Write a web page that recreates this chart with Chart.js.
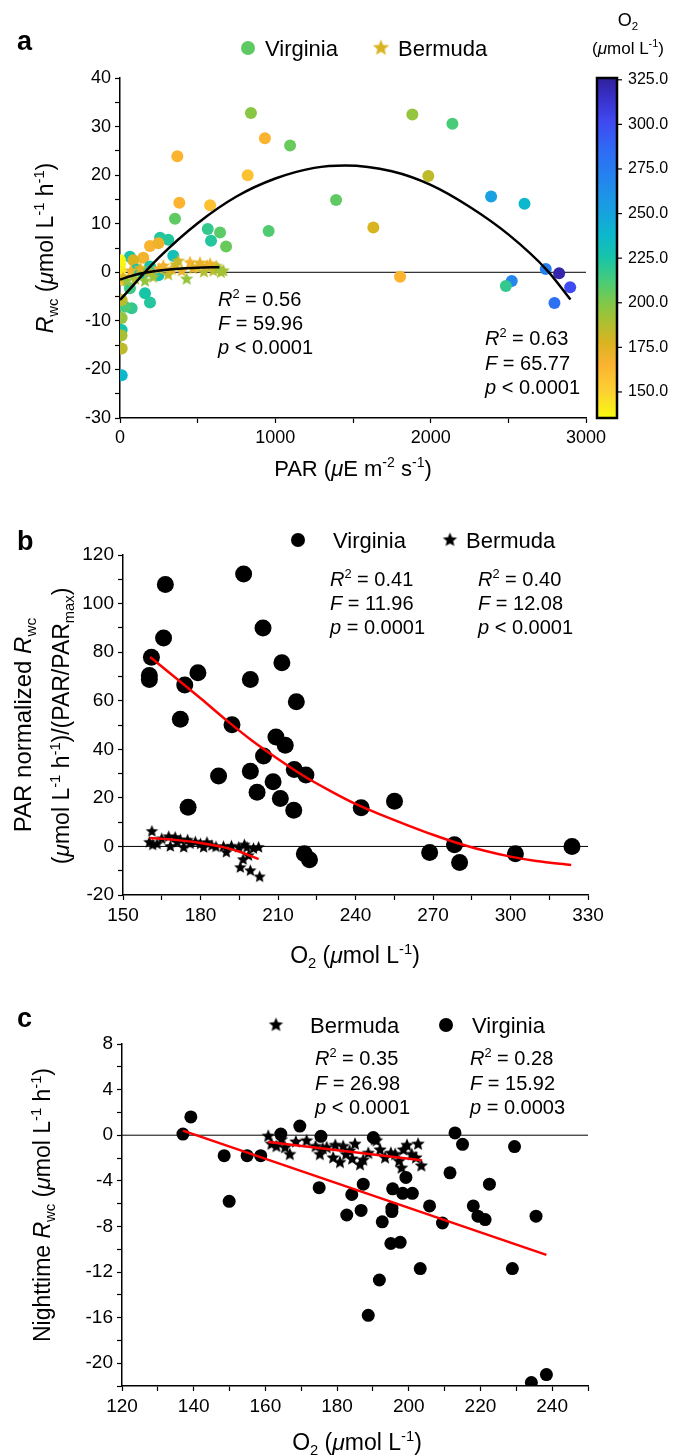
<!DOCTYPE html>
<html>
<head>
<meta charset="utf-8" />
<script src="https://cdn.jsdelivr.net/npm/chart.js"></script>
<style>
  body { margin: 0; background: #fff; width: 674px; height: 1455px; position: relative; }
  canvas { position: absolute; left: 0; }
</style>
</head>
<body>
<canvas id="chartA" width="674" height="490" style="top:0"></canvas>
<canvas id="chartB" width="674" height="490" style="top:490px"></canvas>
<canvas id="chartC" width="674" height="475" style="top:980px"></canvas>
<script>
// ---- panel a: Rwc vs PAR, colour = O2 ----
const aVirPar = [843, 933, 1095, 369, 822, 1391, 382, 580, 354, 1631, 957, 565, 644, 586, 683, 258, 311, 193, 247, 343,
  64, 150, 86, 107, 193, 247, 150, 1803, 64, 161, 193, 75, 32, 11, 11, 10, 11, 11, 11, 0, 0, 0, 20,
  1882, 2140, 1985, 2389, 2604, 2741, 2827, 2522, 2484, 2898, 2797];
const aVirR = [32.8, 27.6, 26.1, 23.9, 20.0, 14.9, 14.3, 13.8, 11.0, 9.2, 8.5, 8.9, 8.2, 6.5, 5.3, 7.1, 6.7, 5.4, 6.0, 3.4,
  3.2, 3.0, 2.5, 0.5, 1.2, -0.6, -0.2, -0.9, -3.3, -4.3, -6.2, -7.4, -7.1, -5.7, -11.9, -13.0, -15.7, -21.2, -9.4, 1.5, 0.2, 2.5, -1.5,
  32.5, 30.6, 19.8, 15.6, 14.1, 0.7, -0.2, -1.8, -2.8, -3.1, -6.3];
const aVirO2 = [198, 165, 205, 165, 158, 207, 165, 158, 207, 178, 210, 218, 208, 222, 205, 222, 222, 165, 170, 230,
  225, 168, 178, 225, 225, 228, 225, 165, 215, 225, 222, 218, 212, 185, 225, 190, 185, 238, 195, 137, 140, 137, 160,
  195, 212, 185, 252, 238, 272, 322, 268, 218, 300, 282];
const aBerPar = [20, 43, 70, 97, 130, 161, 190, 214, 250, 279, 310, 333, 360, 375, 397, 429, 451, 470, 494, 515, 540, 560, 580, 601, 620, 633, 650, 665];
const aBerR = [-1.0, -1.6, 0.5, -1.2, 1.0, -1.6, 0.3, -0.8, 0.9, 1.5, -0.3, 0.8, 1.8, 2.5, 0.5, -1.2, 2.2, 1.0, 1.2, 2.1, 0.3, 1.5, 1.9, 0.5, 1.4, 0.9, 0.2, 0.5];
const aBerO2 = [175, 195, 170, 190, 175, 195, 180, 192, 170, 168, 185, 175, 180, 182, 172, 195, 168, 178, 170, 172, 188, 175, 170, 185, 178, 195, 190, 192];
const aVirFitPar = [0, 250, 500, 750, 1000, 1250, 1449, 1750, 2000, 2250, 2500, 2750, 2900];
const aVirFitR = [-5.7, 3.0, 10.1, 15.6, 19.3, 21.5, 22.0, 20.8, 18.0, 13.5, 7.8, 0.4, -5.6];
const aBerFitPar = [0, 100, 200, 300, 400, 500, 640];
const aBerFitR = [-1.5, -0.5, 0.1, 0.5, 0.8, 0.95, 1.05];

// ---- panel b: PAR normalised Rwc vs O2 ----
const bVirO2 = [166.4, 165.7, 161.0, 160.2, 160.2, 179.0, 173.9, 172.2, 175.2, 187.0, 192.2, 199.3, 199.3, 201.9, 204.2, 204.4, 208.1, 209.2,
  211.5, 210.9, 212.8, 217.1, 216.3, 216.1, 220.8, 220.2, 222.2, 242.2, 255.1, 268.7, 278.3, 280.3, 301.9, 323.8, 196.7];
const bVirR = [107.9, 85.8, 77.9, 70.4, 68.7, 71.5, 66.5, 52.4, 16.1, 29.0, 50.1, 68.7, 31.0, 22.3, 89.9, 37.2, 26.6, 45.1,
  75.6, 19.7, 41.7, 59.6, 31.7, 14.9, 29.4, -3.0, -5.5, 15.9, 18.6, -2.5, 0.7, -6.6, -3.0, 0.0, 112.2];
const bBerO2 = [160.2, 161.2, 161.5, 163.2, 165.0, 167.7, 168.3, 170.2, 171.0, 172.2, 173.5, 175.0, 176.0, 178.0, 180.0, 181.2,
  182.5, 184.4, 186.0, 188.9, 190.0, 192.0, 194.8, 195.4, 196.5, 197.0, 198.0, 198.6, 199.3, 200.5, 202.5, 202.9];
const bBerR = [2.1, 6.6, 1.0, 1.4, 3.5, 4.4, 0.4, 4.1, 2.0, 3.1, 0.0, 3.0, 1.5, 2.2, 1.4, 0.0,
  2.0, 0.7, 0.2, 0.3, -2.0, 0.5, 0.0, -8.3, -5.0, 1.0, 0.0, -3.4, -9.6, -0.5, 0.0, -12.1];
const bVirFitO2 = [160.5, 180, 190, 200, 210, 220, 230, 240, 250, 260, 270, 280, 290, 300, 310, 323.5];
const bVirFitR = [78, 61, 52, 43.5, 36, 29, 23, 17.5, 13, 8.8, 4.8, 1.2, -1.8, -4.2, -6, -7.6];
const bBerFitO2 = [160.3, 170, 180, 190, 196, 202.5];
const bBerFitR = [3.5, 2.7, 1.4, -0.6, -2.5, -5.2];

// ---- panel c: nighttime Rwc vs O2 ----
const cVirO2 = [137.0, 139.2, 148.5, 149.9, 154.9, 158.7, 164.3, 169.6, 175.0, 175.5, 182.7, 184.1, 186.7, 187.3, 188.7, 191.8,
  192.6, 190.1, 195.5, 195.3, 195.3, 195.0, 197.6, 199.2, 198.3, 201.0, 203.2, 205.8, 209.4, 211.5, 212.9, 215.0, 218.0, 219.3,
  221.3, 222.5, 228.9, 229.5, 235.5, 234.2, 238.4];
const cVirR = [0.1, 1.6, -1.8, -5.8, -1.8, -1.8, 0.1, 0.8, -4.6, -0.1, -7.0, -5.2, -6.6, -4.3, -15.8, -12.7,
  -7.6, -0.2, -4.7, -6.4, -6.7, -9.5, -9.4, -3.7, -5.1, -5.1, -11.7, -6.2, -7.7, -3.3, 0.2, -0.8, -6.2, -7.1,
  -7.4, -4.3, -11.7, -1.0, -7.1, -21.7, -21.0];
const cBerO2 = [160.8, 161.7, 163.1, 164.5, 165.5, 166.8, 168.5, 171.5, 174.0, 175.2, 176.0, 177.1, 178.9, 179.5, 180.8, 181.7,
  182.5, 183.5, 184.2, 185.0, 186.4, 187.3, 188.7, 190.5, 191.0, 192.0, 193.4, 195.0, 196.2, 197.3, 198.0, 198.5, 199.5,
  200.8, 202.0, 202.6, 203.5];
const cBerR = [0.0, -0.7, -0.9, -0.3, -1.0, -1.6, -0.5, -0.4, -0.9, -1.6, -1.1, -1.0, -1.9, -0.8, -2.3, -0.9,
  -1.6, -1.3, -2.0, -0.7, -2.5, -2.1, -1.5, -0.3, -0.4, -1.2, -1.9, -1.5, -1.6, -2.2, -2.8, -1.2, -0.8,
  -1.6, -1.9, -0.7, -2.6];
const cVirFitO2 = [137, 238.4];
const cVirFitR = [0.4, -10.5];
const cBerFitO2 = [160.8, 203.6];
const cBerFitR = [-0.6, -2.2];

// colour bar (O2) stops, reversed parula look
const cmapStops = [[135, '#f9fb0e'], [150, '#fcd232'], [165, '#fbb330'], [178, '#d9b421'], [190, '#a9c033'],
  [200, '#80c848'], [212, '#48cc78'], [225, '#18c4a8'], [238, '#0cb8cc'], [252, '#18a0e0'], [270, '#2484ee'],
  [287, '#3068f5'], [302, '#4048f0'], [315, '#3830c8'], [326, '#30209a']];

const FONT = "'Liberation Sans', Arial, sans-serif";
Chart.defaults.font.family = FONT;
Chart.defaults.color = '#000';

const pts = (xs, ys) => xs.map((x, i) => ({ x, y: ys[i] }));
const rgb = h => [1, 3, 5].map(i => parseInt(h.slice(i, i + 2), 16));

function o2Color(v) {
  if (v <= cmapStops[0][0]) return cmapStops[0][1];
  for (let i = 1; i < cmapStops.length; i++) {
    const [v1, c1] = cmapStops[i];
    if (v <= v1) {
      const [v0, c0] = cmapStops[i - 1];
      const t = (v - v0) / (v1 - v0);
      const a = rgb(c0), b = rgb(c1);
      return 'rgb(' + a.map((x, k) => Math.round(x + (b[k] - x) * t)).join(',') + ')';
    }
  }
  return cmapStops[cmapStops.length - 1][1];
}

const starCache = {};
function starImg(color, r) {
  const key = color + r;
  if (starCache[key]) return starCache[key];
  const c = document.createElement('canvas');
  const s = Math.ceil(r * 2 + 2);
  c.width = c.height = s;
  const g = c.getContext('2d');
  g.beginPath();
  for (let i = 0; i < 10; i++) {
    const rr = i % 2 ? r * 0.45 : r;
    const a = -Math.PI / 2 + i * Math.PI / 5;
    g.lineTo(s / 2 + rr * Math.cos(a), s / 2 + 1 + rr * Math.sin(a));
  }
  g.closePath();
  g.fillStyle = color;
  g.fill();
  starCache[key] = c;
  return c;
}

// *italic*, ^{sup}, _{sub}
function parse(str) {
  const segs = [];
  let i = 0, it = false, buf = '';
  const push = () => { if (buf) segs.push({ t: buf, i: it }); buf = ''; };
  while (i < str.length) {
    const ch = str[i];
    if (ch === '*') { push(); it = !it; i++; }
    else if ((ch === '^' || ch === '_') && str[i + 1] === '{') {
      push();
      const j = str.indexOf('}', i);
      segs.push({ t: str.slice(i + 2, j), i: it, sup: ch === '^', sub: ch === '_' });
      i = j + 1;
    } else { buf += ch; i++; }
  }
  push();
  return segs;
}

function rich(ctx, t) {
  const size = t.size, segs = parse(t.s);
  ctx.save();
  ctx.translate(t.x, t.y);
  if (t.rot) ctx.rotate(t.rot);
  ctx.fillStyle = '#000';
  ctx.textBaseline = 'alphabetic';
  const font = s => (s.i ? 'italic ' : '') + (t.bold ? 'bold ' : '') + ((s.sup || s.sub) ? size * 0.64 : size) + 'px ' + FONT;
  let w = 0;
  segs.forEach(s => { ctx.font = font(s); w += ctx.measureText(s.t).width; });
  let cx = t.align === 'center' ? -w / 2 : t.align === 'right' ? -w : 0;
  segs.forEach(s => {
    ctx.font = font(s);
    const dy = s.sup ? -size * 0.4 : s.sub ? size * 0.22 : 0;
    ctx.fillText(s.t, cx, size * 0.36 + dy);
    cx += ctx.measureText(s.t).width;
  });
  ctx.restore();
}

function decor(texts, marks) {
  return {
    id: 'decor',
    afterDraw(chart) {
      const ctx = chart.ctx;
      marks.forEach(m => {
        if (m.star) {
          const img = starImg(m.color, m.r);
          ctx.drawImage(img, m.x - img.width / 2, m.y - img.height / 2);
        } else {
          ctx.beginPath();
          ctx.arc(m.x, m.y, m.r, 0, Math.PI * 2);
          ctx.fillStyle = m.color;
          ctx.fill();
        }
      });
      texts.forEach(t => rich(ctx, t));
    }
  };
}

const colorBar = {
  id: 'colorBar',
  afterDraw(chart) {
    const s = chart.scales.cb, ctx = chart.ctx;
    const x0 = s.left + 11, w = 20;
    for (let y = Math.floor(s.top); y < s.bottom; y++) {
      ctx.fillStyle = o2Color(s.getValueForPixel(y + 0.5));
      ctx.fillRect(x0, y, w, 1);
    }
    ctx.strokeStyle = '#000';
    ctx.lineWidth = 2.5;
    ctx.strokeRect(x0, s.top, w, s.bottom - s.top);
    ctx.lineWidth = 1.2;
    s.ticks.forEach(t => {
      const y = s.getPixelForValue(t.value);
      ctx.beginPath();
      ctx.moveTo(x0 + w, y);
      ctx.lineTo(x0 + w + 5, y);
      ctx.stroke();
    });
  }
};

function axis(min, max, step, major, size, fit) {
  return {
    type: 'linear', min, max,
    ticks: {
      stepSize: step, autoSkip: false, maxRotation: 0, padding: 4, color: '#000', font: { size },
      callback: v => Math.abs(v % major) < 1e-9 ? v : ''
    },
    grid: { drawOnChartArea: false, tickLength: 5, tickColor: '#000', tickWidth: 1.2 },
    border: { color: '#000', width: 1.5 },
    afterFit: fit
  };
}

const fitLine = (data, color) => ({
  data, showLine: true, borderColor: color, borderWidth: 2.5, pointRadius: 0,
  cubicInterpolationMode: 'monotone'
});
const zeroLine = data => ({ data, showLine: true, borderColor: '#000', borderWidth: 1, pointRadius: 0 });

const base = (pad, scales) => ({
  responsive: false, animation: false,
  layout: { padding: pad },
  plugins: { legend: { display: false }, tooltip: { enabled: false } },
  scales
});

// ---------- chart a ----------
new Chart(document.getElementById('chartA'), {
  type: 'scatter',
  data: {
    datasets: [
      fitLine(pts(aVirFitPar, aVirFitR), '#000'),
      fitLine(pts(aBerFitPar, aBerFitR), '#000'),
      { data: pts(aBerPar, aBerR), pointRadius: 7, pointStyle: c => starImg(o2Color(aBerO2[c.dataIndex]), 7) },
      { data: pts(aVirPar, aVirR), pointRadius: 6, borderWidth: 0,
        backgroundColor: c => o2Color(aVirO2[c.dataIndex]) },
      zeroLine(pts([0, 3000], [0, 0]))
    ]
  },
  options: base({ top: 78 }, {
    x: axis(0, 3000, 500, 1000, 18, s => { s.height = 72; }),
    y: axis(-30, 40, 5, 10, 18, s => { s.width = 120; }),
    cb: {
      type: 'linear', position: 'right', min: 135.4, max: 326,
      ticks: { stepSize: 25, includeBounds: false, padding: 34, font: { size: 16 }, color: '#000', callback: v => v.toFixed(1) },
      grid: { display: false }, border: { display: false },
      afterFit: s => { s.width = 88; }
    }
  }),
  plugins: [colorBar, decor([
    { s: 'a', x: 17, y: 40, size: 27, bold: true },
    { s: 'Virginia', x: 265, y: 48, size: 22 },
    { s: 'Bermuda', x: 398, y: 48, size: 22 },
    { s: 'O_{2}', x: 628, y: 20, size: 18, align: 'center' },
    { s: '(*μ*mol L^{-1})', x: 628, y: 48, size: 17, align: 'center' },
    { s: '*R*^{2} = 0.56', x: 218, y: 299, size: 20 },
    { s: '*F* = 59.96', x: 218, y: 323, size: 20 },
    { s: '*p* < 0.0001', x: 218, y: 347, size: 20 },
    { s: '*R*^{2} = 0.63', x: 485, y: 338, size: 20 },
    { s: '*F* = 65.77', x: 485, y: 363, size: 20 },
    { s: '*p* < 0.0001', x: 485, y: 387, size: 20 },
    { s: 'PAR (*μ*E m^{-2} s^{-1})', x: 353, y: 468, size: 22, align: 'center' },
    { s: '*R*_{wc} (*μ*mol L^{-1} h^{-1})', x: 45, y: 248, size: 23, align: 'center', rot: -Math.PI / 2 }
  ], [
    { x: 248, y: 48, r: 7, color: o2Color(207) },
    { x: 381, y: 47, r: 8.5, color: o2Color(178), star: true }
  ])]
});

// ---------- chart b ----------
new Chart(document.getElementById('chartB'), {
  type: 'scatter',
  data: {
    datasets: [
      fitLine(pts(bVirFitO2, bVirFitR), '#ff0000'),
      fitLine(pts(bBerFitO2, bBerFitR), '#ff0000'),
      { data: pts(bBerO2, bBerR), pointRadius: 6.5, pointStyle: starImg('#000', 6.5) },
      { data: pts(bVirO2, bVirR), pointRadius: 8.5, borderWidth: 0, backgroundColor: '#000' },
      zeroLine(pts([150, 330], [0, 0]))
    ]
  },
  options: base({ top: 65, right: 86 }, {
    x: axis(150, 330, 15, 30, 19, s => { s.height = 85; }),
    y: axis(-20, 120, 10, 20, 19, s => { s.width = 123; })
  }),
  plugins: [decor([
    { s: 'b', x: 17, y: 50, size: 27, bold: true },
    { s: 'Virginia', x: 333, y: 50, size: 22 },
    { s: 'Bermuda', x: 466, y: 50, size: 22 },
    { s: '*R*^{2} = 0.41', x: 330, y: 89, size: 20 },
    { s: '*F* = 11.96', x: 330, y: 113, size: 20 },
    { s: '*p* = 0.0001', x: 330, y: 137, size: 20 },
    { s: '*R*^{2} = 0.40', x: 478, y: 89, size: 20 },
    { s: '*F* = 12.08', x: 478, y: 113, size: 20 },
    { s: '*p* < 0.0001', x: 478, y: 137, size: 20 },
    { s: 'O_{2} (*μ*mol L^{-1})', x: 355, y: 465, size: 23, align: 'center' },
    { s: 'PAR normalized *R*_{wc}', x: 22, y: 235, size: 24, align: 'center', rot: -Math.PI / 2 },
    { s: '(*μ*mol L^{-1} h^{-1})/(PAR/PAR_{max})', x: 61, y: 236, size: 23, align: 'center', rot: -Math.PI / 2 }
  ], [
    { x: 298, y: 50, r: 7, color: '#000' },
    { x: 450, y: 49, r: 7.5, color: '#000', star: true }
  ])]
});

// ---------- chart c ----------
new Chart(document.getElementById('chartC'), {
  type: 'scatter',
  data: {
    datasets: [
      fitLine(pts(cVirFitO2, cVirFitR), '#ff0000'),
      fitLine(pts(cBerFitO2, cBerFitR), '#ff0000'),
      { data: pts(cBerO2, cBerR), pointRadius: 7, pointStyle: starImg('#000', 7) },
      { data: pts(cVirO2, cVirR), pointRadius: 6.5, borderWidth: 0, backgroundColor: '#000' },
      zeroLine(pts([120, 250], [0, 0]))
    ]
  },
  options: base({ top: 64, right: 86 }, {
    x: axis(120, 250, 10, 20, 19, s => { s.height = 69; }),
    y: axis(-22, 8, 2, 4, 19, s => { s.width = 122; })
  }),
  plugins: [decor([
    { s: 'c', x: 17, y: 37, size: 27, bold: true },
    { s: 'Bermuda', x: 310, y: 45, size: 22 },
    { s: 'Virginia', x: 472, y: 45, size: 22 },
    { s: '*R*^{2} = 0.35', x: 315, y: 78, size: 20 },
    { s: '*F* = 26.98', x: 315, y: 103, size: 20 },
    { s: '*p* < 0.0001', x: 315, y: 127, size: 20 },
    { s: '*R*^{2} = 0.28', x: 470, y: 78, size: 20 },
    { s: '*F* = 15.92', x: 470, y: 103, size: 20 },
    { s: '*p* = 0.0003', x: 470, y: 127, size: 20 },
    { s: 'O_{2} (*μ*mol L^{-1})', x: 357, y: 462, size: 23, align: 'center' },
    { s: 'Nighttime *R*_{wc} (*μ*mol L^{-1} h^{-1})', x: 42, y: 225, size: 23, align: 'center', rot: -Math.PI / 2 }
  ], [
    { x: 276, y: 44, r: 7.5, color: '#000', star: true },
    { x: 446, y: 45, r: 7, color: '#000' }
  ])]
});
</script>
</body>
</html>
